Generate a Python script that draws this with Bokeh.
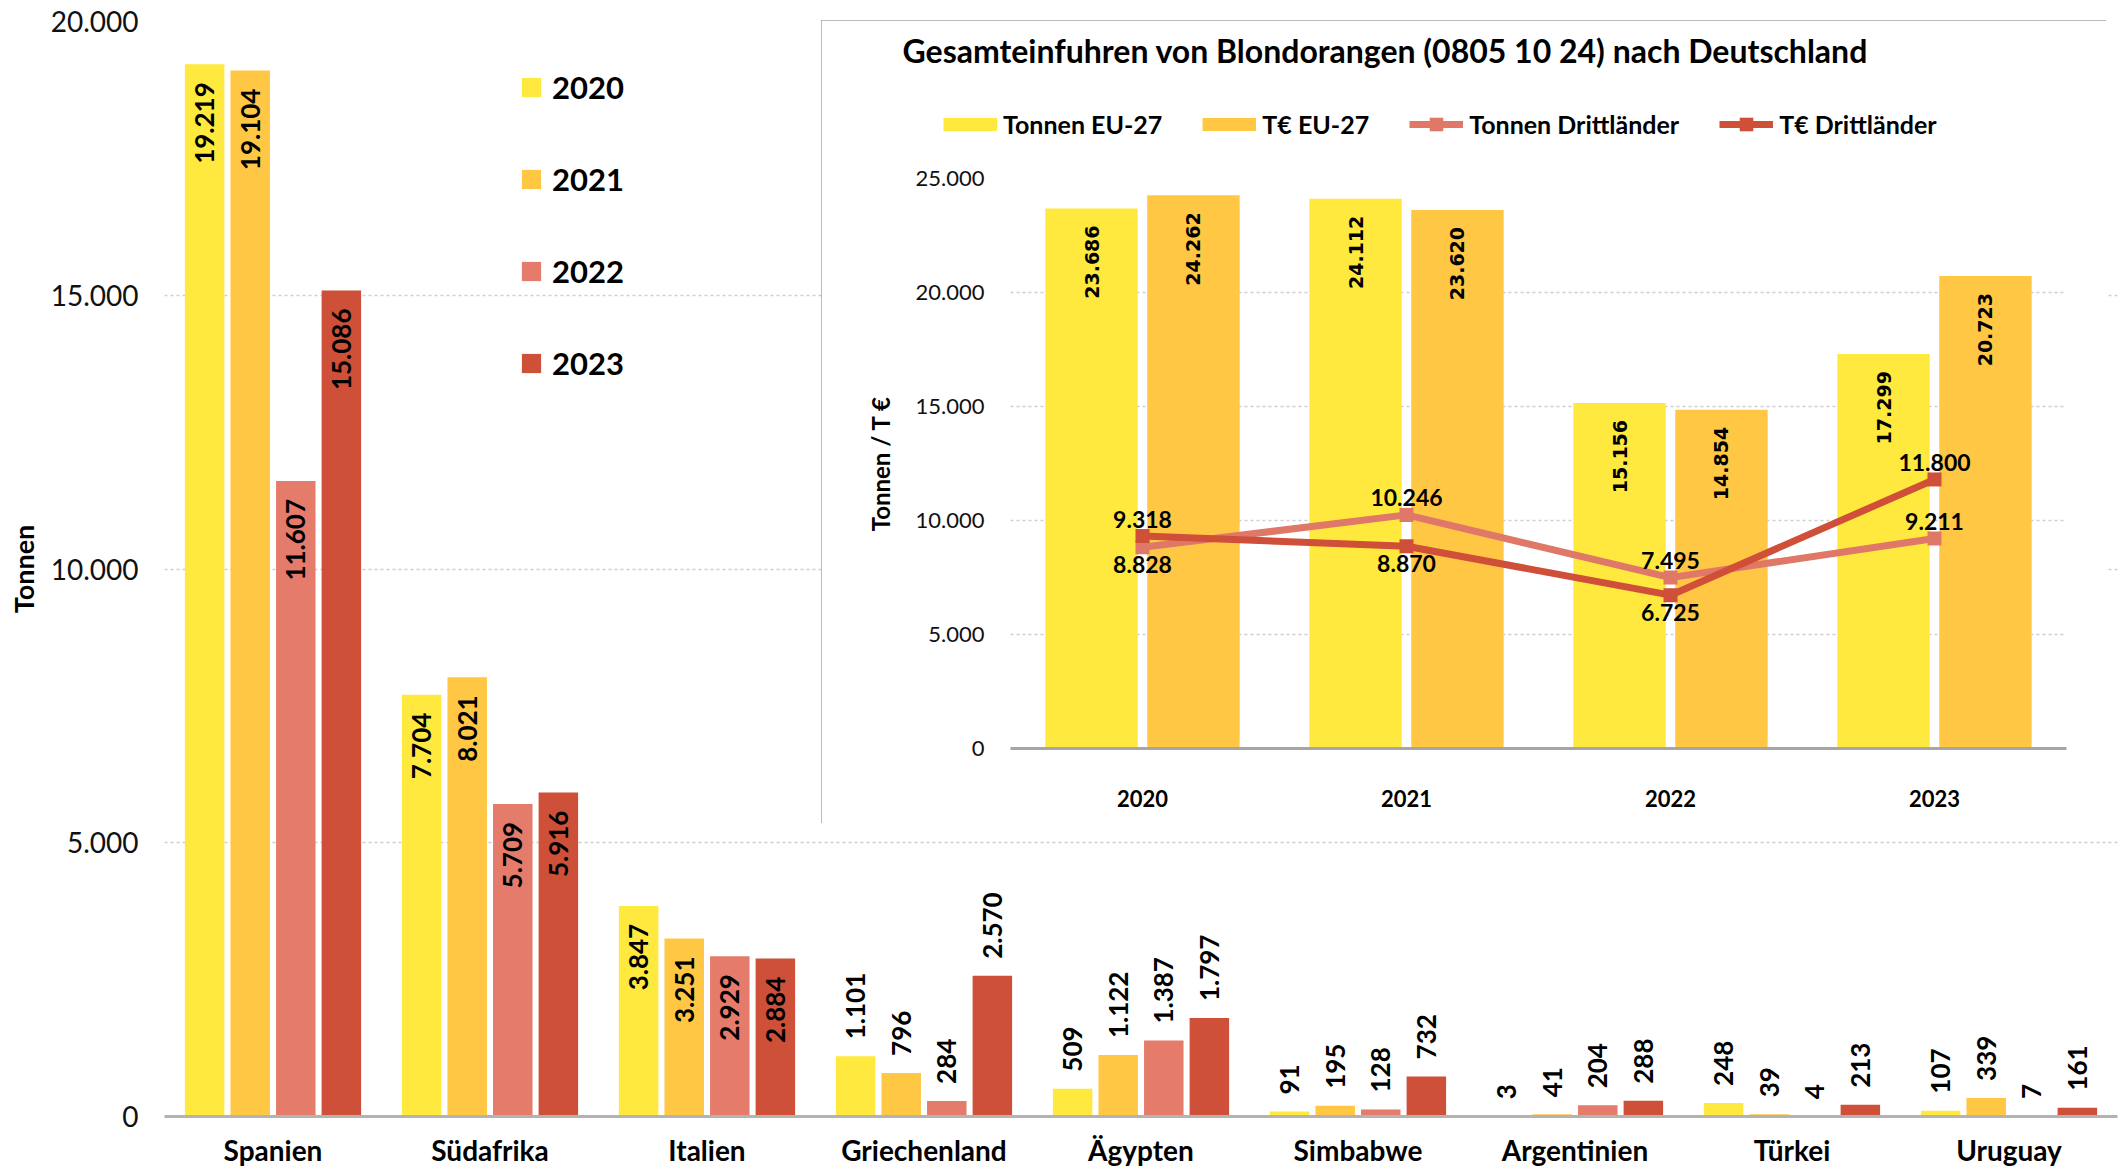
import math
from bokeh.plotting import figure
from bokeh.models import (FactorRange, Range1d, ColumnDataSource, Legend, LegendItem,
                          FixedTicker, Label)
from bokeh.transform import dodge
from bokeh.embed import file_html
from bokeh.resources import INLINE
from bokeh.core.properties import value

# ---------------- data: main chart (Tonnen) ----------------
countries = ["Spanien", "Südafrika", "Italien", "Griechenland", "Ägypten",
             "Simbabwe", "Argentinien", "Türkei", "Uruguay"]
years = ["2020", "2021", "2022", "2023"]
t2020 = [19219, 7704, 3847, 1101, 509, 91, 3, 248, 107]
t2021 = [19104, 8021, 3251, 796, 1122, 195, 41, 39, 339]
t2022 = [11607, 5709, 2929, 284, 1387, 128, 204, 4, 7]
t2023 = [15086, 5916, 2884, 2570, 1797, 732, 288, 213, 161]
main_ticks = [0, 5000, 10000, 15000, 20000]
inside_countries = ["Spanien", "Südafrika", "Italien"]

# ---------------- data: inset chart ----------------
inset_years = ["2020", "2021", "2022", "2023"]
tonnen_eu = [23686, 24112, 15156, 17299]
teuro_eu = [24262, 23620, 14854, 20723]
tonnen_dritt = [8828, 10246, 7495, 9211]
teuro_dritt = [9318, 8870, 6725, 11800]
inset_ticks = [0, 5000, 10000, 15000, 20000, 25000]
tonnen_dritt_pos = ["below", "above", "above", "above"]
teuro_dritt_pos = ["above", "below", "below", "above"]
inset_title = "Gesamteinfuhren von Blondorangen (0805 10 24) nach Deutschland"
inset_series = ["Tonnen EU-27", "T€ EU-27", "Tonnen Drittländer", "T€ Drittländer"]

year_colors = ["#FFE93E", "#FFC744", "#E57B6B", "#CE5039"]
eu_colors = ["#FFE93E", "#FFC744"]
dritt_colors = ["#E07868", "#CF4F39"]
GRID = "#CFCFCF"
TXT = "#000000"


def fmt(v):
    return f"{v:,}".replace(",", ".")


def style_axes(fig, ysize, xsize, xstand, ylab, ylabsize, ylabstand):
    for ax in (fig.xaxis, fig.yaxis):
        ax.major_tick_line_color = None
        ax.minor_tick_line_color = None
        ax.major_tick_out = 0
        ax.major_tick_in = 0
        ax.minor_tick_out = 0
        ax.minor_tick_in = 0
        ax.major_label_text_font = "Lato"
        ax.major_label_text_color = TXT
    fig.yaxis.axis_line_color = None
    fig.yaxis.major_label_standoff = 26
    fig.yaxis.major_label_text_font_size = ysize
    fig.yaxis.major_label_text_color = "#111111"
    fig.yaxis.axis_label = ylab
    fig.yaxis.axis_label_text_font = "Lato"
    fig.yaxis.axis_label_text_font_style = "bold"
    fig.yaxis.axis_label_text_font_size = ylabsize
    fig.yaxis.axis_label_text_color = TXT
    fig.yaxis.axis_label_standoff = ylabstand
    fig.xaxis.major_label_standoff = xstand
    fig.xaxis.major_label_text_font_style = "bold"
    fig.xaxis.major_label_text_font_size = xsize
    fig.xgrid.grid_line_color = None
    fig.ygrid.grid_line_color = GRID
    fig.ygrid.grid_line_dash = "3 3"
    fig.ygrid.grid_line_width = 1.5


# ================= main figure =================
p = figure(x_range=FactorRange(*countries), y_range=Range1d(0, 20000),
           width=2125, height=1171, output_backend="svg", toolbar_location=None,
           min_border_left=164, min_border_right=8, min_border_top=21, min_border_bottom=55,
           background_fill_color="white", border_fill_color="white", outline_line_color=None)
p.x_range.range_padding = 0

offsets = [-0.315, -0.105, 0.105, 0.315]
series = [t2020, t2021, t2022, t2023]
main_items = []
for yr, vals, off, col in zip(years, series, offsets, year_colors):
    src = ColumnDataSource(dict(
        x=countries, top=vals, label=[fmt(v) for v in vals],
        align=["right" if c in inside_countries else "left" for c in countries],
        yoff=[18 if c in inside_countries else -17 for c in countries]))
    r = p.vbar(x=dodge("x", off, range=p.x_range), top="top", width=0.182, source=src,
               fill_color=col, line_color=None)
    p.text(x=dodge("x", off, range=p.x_range), y="top", text="label", source=src,
           angle=math.pi / 2, text_align="align", text_baseline="middle", y_offset="yoff",
           text_font=value("Lato"), text_font_style="bold", text_font_size="26px",
           text_color=TXT)
    main_items.append(LegendItem(label=yr, renderers=[r]))

p.yaxis.ticker = FixedTicker(ticks=main_ticks)
p.yaxis.major_label_overrides = {t: fmt(t) for t in main_ticks}
style_axes(p, "28px", "28px", 16, "Tonnen", "27px", 8)
p.xaxis.axis_line_color = "#B3B3B3"
p.xaxis.axis_line_width = 3

main_legend = Legend(items=main_items, location=(355, 734), orientation="vertical",
                     glyph_width=24, glyph_height=24, label_standoff=9, spacing=54,
                     padding=0, margin=0, border_line_color=None, background_fill_alpha=0,
                     label_text_font="Lato", label_text_font_style="bold",
                     label_text_font_size="31px", label_text_color=TXT)
p.add_layout(main_legend, "center")

# ================= inset figure =================
q = figure(x_range=FactorRange(*inset_years), y_range=Range1d(0, 25000),
           width=1285, height=803, output_backend="svg", toolbar_location=None,
           min_border_left=189, min_border_right=40, min_border_top=158, min_border_bottom=75,
           background_fill_color="white", border_fill_color="white", outline_line_color=None,
           styles={"position": "absolute", "left": "821px", "top": "20px", "z-index": "5",
                   "outline": "2px solid #A6A6A6", "outline-offset": "-2px"})
q.x_range.range_padding = 0

isrc = ColumnDataSource(dict(x=inset_years, teu=tonnen_eu, eeu=teuro_eu,
                             teu_l=[fmt(v) for v in tonnen_eu],
                             eeu_l=[fmt(v) for v in teuro_eu]))
q.vbar(x=dodge("x", -0.193, range=q.x_range), top="teu", width=0.35, source=isrc,
       fill_color=eu_colors[0], line_color=None)
q.vbar(x=dodge("x", 0.193, range=q.x_range), top="eeu", width=0.35, source=isrc,
       fill_color=eu_colors[1], line_color=None)
for off, ycol, lcol in [(-0.193, "teu", "teu_l"), (0.193, "eeu", "eeu_l")]:
    q.text(x=dodge("x", off, range=q.x_range), y=ycol, text=lcol, source=isrc,
           angle=math.pi / 2, text_align="right", text_baseline="middle", y_offset=17,
           text_font=value("DejaVu Sans"), text_font_style="bold", text_font_size="19px",
           text_color=TXT)

for vals, pos, col in [(tonnen_dritt, tonnen_dritt_pos, dritt_colors[0]),
                       (teuro_dritt, teuro_dritt_pos, dritt_colors[1])]:
    lsrc = ColumnDataSource(dict(x=inset_years, y=vals, label=[fmt(v) for v in vals],
                                 yoff=[-17 if s == "above" else 17 for s in pos]))
    q.line(x="x", y="y", source=lsrc, line_color=col, line_width=7)
    q.scatter(x="x", y="y", source=lsrc, marker="square", size=14,
              fill_color=col, line_color=None)
    q.text(x="x", y="y", text="label", source=lsrc, y_offset="yoff",
           text_align="center", text_baseline="middle",
           text_font=value("Lato"), text_font_style="bold", text_font_size="23px",
           text_color=TXT)

q.yaxis.ticker = FixedTicker(ticks=inset_ticks)
q.yaxis.major_label_overrides = {t: fmt(t) for t in inset_ticks}
style_axes(q, "22px", "22px", 41, "Tonnen / T €", "24px", 18)
q.xaxis.axis_line_color = "#A6A6A6"
q.xaxis.axis_line_width = 3

# ================= inset header (title + legend) =================
h = figure(x_range=Range1d(0, 1), y_range=Range1d(0, 1), width=1280, height=140,
           output_backend="svg", toolbar_location=None, x_axis_type=None, y_axis_type=None,
           min_border=0, min_border_left=0, min_border_right=0, min_border_top=0,
           min_border_bottom=0, background_fill_color="white", border_fill_color="white",
           outline_line_color=None,
           styles={"position": "absolute", "left": "823px", "top": "22px", "z-index": "6"})
h.xgrid.grid_line_color = None
h.ygrid.grid_line_color = None
# legend proxies: the series values lie far outside this header's 0..1 ranges,
# so only their legend swatches are visible
sw1 = h.line(x=tonnen_eu, y=tonnen_eu, line_color=eu_colors[0], line_width=13)
sw2 = h.line(x=teuro_eu, y=teuro_eu, line_color=eu_colors[1], line_width=13)
sl1 = h.line(x=tonnen_dritt, y=tonnen_dritt, line_color=dritt_colors[0], line_width=7)
sm1 = h.scatter(x=tonnen_dritt, y=tonnen_dritt, marker="square", size=14,
                fill_color=dritt_colors[0], line_color=None)
sl2 = h.line(x=teuro_dritt, y=teuro_dritt, line_color=dritt_colors[1], line_width=7)
sm2 = h.scatter(x=teuro_dritt, y=teuro_dritt, marker="square", size=14,
                fill_color=dritt_colors[1], line_color=None)
header_legend = Legend(items=[LegendItem(label=inset_series[0], renderers=[sw1]),
                              LegendItem(label=inset_series[1], renderers=[sw2]),
                              LegendItem(label=inset_series[2], renderers=[sl1, sm1]),
                              LegendItem(label=inset_series[3], renderers=[sl2, sm2])],
                       location=(120, 21), orientation="horizontal",
                       glyph_width=54, glyph_height=34, label_standoff=6, spacing=40,
                       padding=0, margin=0, border_line_color=None, background_fill_alpha=0,
                       label_text_font="Lato", label_text_font_style="bold",
                       label_text_font_size="25px", label_text_color=TXT)
h.add_layout(header_legend, "center")
h.add_layout(Label(x=79, y=112, x_units="screen", y_units="screen", text=inset_title,
                   text_font="Lato", text_font_style="bold", text_font_size="32px",
                   text_baseline="middle", text_color=TXT))

open("out.html", "w").write(file_html([p, q, h], INLINE))
